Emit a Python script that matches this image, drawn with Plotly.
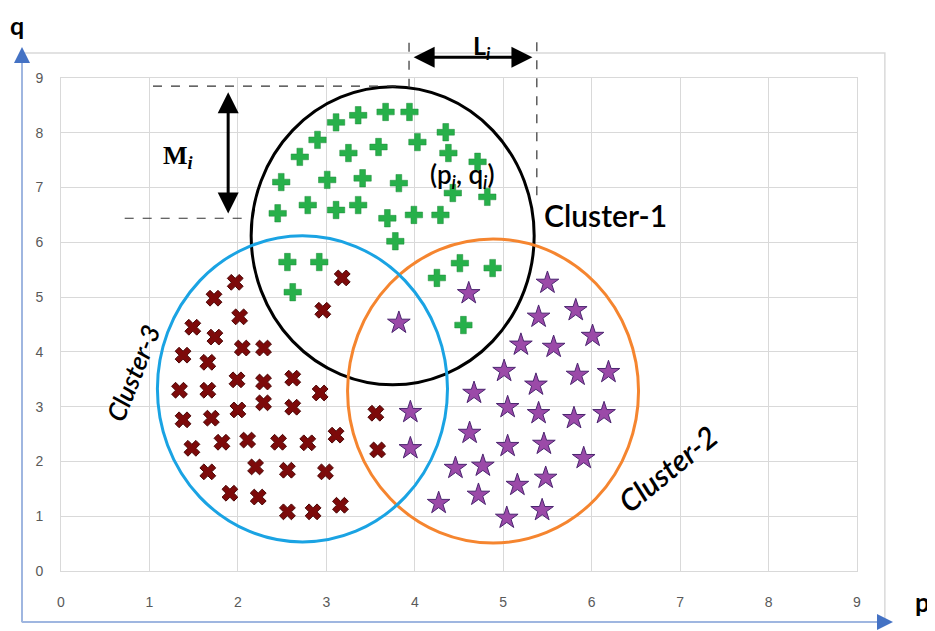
import plotly.graph_objects as go

# ---- data ----
green_p = [3.94, 3.67, 3.36, 3.11, 4.35, 2.90, 4.03, 3.59, 3.25, 4.38, 2.70, 4.71,
           2.49, 3.01, 3.41, 3.82, 4.43, 4.82, 2.45, 2.79, 3.11, 3.36, 3.69, 3.99,
           4.29, 3.78, 2.56, 2.92, 2.62, 4.25, 4.51, 4.88, 4.55]
green_q = [8.38, 8.38, 8.32, 8.19, 8.01, 7.87, 7.83, 7.74, 7.63, 7.63, 7.56, 7.47,
           7.10, 7.14, 7.17, 7.08, 6.90, 6.83, 6.53, 6.68, 6.59, 6.68, 6.44, 6.50,
           6.50, 6.02, 5.64, 5.64, 5.09, 5.35, 5.62, 5.53, 4.49]

red_p = [3.18, 2.96, 1.97, 1.73, 2.02, 1.49, 1.74, 2.05, 2.29, 1.38, 1.66, 1.34, 1.66,
         1.99, 2.29, 2.62, 2.93, 1.38, 1.70, 2.00, 2.29, 2.62, 1.48, 1.82, 2.11, 2.46,
         2.79, 3.11, 1.66, 2.20, 2.56, 2.99, 1.91, 2.23, 2.56, 2.85, 3.16, 3.56, 3.58]
red_q = [5.35, 4.76, 5.27, 4.98, 4.64, 4.45, 4.27, 4.07, 4.07, 3.94, 3.81, 3.30, 3.30,
         3.49, 3.45, 3.52, 3.25, 2.76, 2.79, 2.94, 3.07, 2.99, 2.24, 2.35, 2.39, 2.35,
         2.34, 2.48, 1.81, 1.90, 1.84, 1.81, 1.42, 1.35, 1.08, 1.08, 1.20, 2.88, 2.21]

purple_p = [3.82, 4.61, 5.50, 5.82, 5.40, 6.01, 5.20, 5.57, 5.01, 5.37, 5.84, 6.19,
            4.67, 5.05, 5.40, 5.80, 6.14, 3.95, 3.95, 4.62, 5.05, 5.46, 5.91, 4.46,
            4.77, 5.16, 5.48, 4.72, 4.27, 5.04, 5.44]
purple_q = [4.53, 5.07, 5.26, 4.76, 4.64, 4.29, 4.13, 4.09, 3.65, 3.40, 3.58, 3.63,
            3.25, 2.99, 2.88, 2.79, 2.88, 2.90, 2.24, 2.52, 2.28, 2.32, 2.06, 1.88,
            1.92, 1.57, 1.70, 1.39, 1.24, 0.97, 1.11]

# cluster outlines: [p_min, p_max, q_min, q_max]
cluster_names = ["Cluster-1", "Cluster-2", "Cluster-3"]
cluster_bounds = [[2.15, 5.35, 3.40, 8.84],
                  [3.24, 6.53, 0.51, 6.06],
                  [1.09, 4.37, 0.53, 6.12]]
cluster_colors = ["#000000", "#f5852f", "#1aa3e3"]
# label positions (p, q) and angles
label_p = [6.16, 6.86, 0.81]
label_q = [6.50, 1.88, 3.62]
label_angle = [0, -39, -68]
label_size = [30, 30, 26]
label_italic = [False, True, True]

tick_vals = list(range(0, 10))
tick_text = [str(v) for v in tick_vals]

fig = go.Figure()

fig.add_trace(go.Scatter(x=green_p, y=green_q, mode="markers", name="Cluster-1",
                         marker=dict(symbol="cross", size=14.5, color="#27b04a",
                                     line=dict(width=0.5, color="#1f8a3a"))))
fig.add_trace(go.Scatter(x=red_p, y=red_q, mode="markers", name="Cluster-3",
                         marker=dict(symbol="x", size=14, color="#7d0a0a",
                                     line=dict(width=1, color="#4a0505"))))
fig.add_trace(go.Scatter(x=purple_p, y=purple_q, mode="markers", name="Cluster-2",
                         marker=dict(symbol="star", size=17, color="#9b4aa8",
                                     line=dict(width=1, color="#4b2570"))))

shapes = []
for b, c in zip(cluster_bounds, cluster_colors):
    shapes.append(dict(type="circle", xref="x", yref="y", x0=b[0], x1=b[1], y0=b[2], y1=b[3],
                       line=dict(color=c, width=3), layer="between"))

# paper conversion: plot area covers 0..9 on both axes
def px(v):
    return v / 9.0

UX = 796 / 9.0   # pixels per unit (x)
UY = 493 / 9.0   # pixels per unit (y)

# chart-area frame (outside plot area)
L, R, B, T = -0.049, 1.035, -0.1034, 1.0507
shapes.append(dict(type="rect", xref="paper", yref="paper", x0=L, x1=R, y0=B, y1=T,
                   line=dict(color="#d9d9d9", width=1.5), layer="below"))
shapes.append(dict(type="line", xref="paper", yref="paper", x0=L, x1=L, y0=B, y1=1.05,
                   line=dict(color="#9fb6e0", width=2)))
shapes.append(dict(type="line", xref="paper", yref="paper", x0=L, x1=1.035, y0=B, y1=B,
                   line=dict(color="#9fb6e0", width=2)))

# dashed guide lines for L_i and M_i
dash = dict(color="#333333", width=1.2, dash="dash")
shapes.append(dict(type="line", xref="paper", yref="paper", x0=px(3.935), x1=px(3.935),
                   y0=px(8.82), y1=px(9.69), line=dash))
shapes.append(dict(type="line", xref="paper", yref="paper", x0=px(5.38), x1=px(5.38),
                   y0=px(6.86), y1=px(9.69), line=dash))
shapes.append(dict(type="line", xref="paper", yref="paper", x0=px(1.04), x1=px(3.89),
                   y0=px(8.85), y1=px(8.85), line=dash))
shapes.append(dict(type="line", xref="paper", yref="paper", x0=px(0.72), x1=px(2.08),
                   y0=px(6.44), y1=px(6.44), line=dash))

annotations = []
# double arrows
annotations.append(dict(xref="paper", yref="paper", x=px(5.33), y=px(9.38),
                        ax=-(5.33 - 3.97) * UX, ay=0, text="",
                        showarrow=True, arrowside="end+start", arrowhead=2,
                        arrowsize=1.4, arrowwidth=3, arrowcolor="#000000"))
annotations.append(dict(xref="paper", yref="paper", x=px(1.89), y=px(8.74),
                        ax=0, ay=(8.74 - 6.50) * UY, text="",
                        showarrow=True, arrowside="end+start", arrowhead=2,
                        arrowsize=1.4, arrowwidth=3, arrowcolor="#000000"))
# axis arrows heads
annotations.append(dict(xref="paper", yref="paper", x=L, y=1.063, ax=0, ay=14, text="",
                        showarrow=True, arrowhead=2, arrowsize=1.6, arrowwidth=2,
                        arrowcolor="#4472c4"))
annotations.append(dict(xref="paper", yref="paper", x=(893 - 61) / 796, y=B, ax=-14, ay=0,
                        text="", showarrow=True, arrowhead=2, arrowsize=1.6, arrowwidth=2,
                        arrowcolor="#4472c4"))

# cluster labels
for n, lp, lq, ang, sz, it in zip(cluster_names, label_p, label_q, label_angle,
                                  label_size, label_italic):
    txt = f"<i>{n}</i>" if it else n
    annotations.append(dict(xref="x", yref="y", x=lp, y=lq, text=txt, showarrow=False,
                            textangle=ang, xanchor="center", yanchor="middle",
                            font=dict(family="Lato, Open Sans, sans-serif", size=sz,
                                      color="#000000", weight=600)))

annotations.append(dict(xref="x", yref="y", x=4.53, y=7.22,
                        text="(p<sub><i>i</i></sub>, q<sub><i>i</i></sub>)", showarrow=False,
                        xanchor="center", yanchor="middle",
                        font=dict(family="Lato, sans-serif", size=26, color="#000000",
                                  weight=600)))
annotations.append(dict(xref="paper", yref="paper", x=px(4.76), y=px(9.57),
                        text="<b>L</b><sub><b><i>i</i></b></sub>", showarrow=False,
                        xanchor="center", yanchor="middle",
                        font=dict(family="Lato, sans-serif", size=25, color="#000000")))
annotations.append(dict(xref="paper", yref="paper", x=px(1.32), y=px(7.55),
                        text="<b>M</b><sub><b><i>i</i></b></sub>", showarrow=False,
                        xanchor="center", yanchor="middle",
                        font=dict(family="Liberation Serif, serif", size=26, color="#000000")))
# axis names
annotations.append(dict(xref="paper", yref="paper", x=(17 - 61) / 796, y=(571 - 25) / 493,
                        text="<b>q</b>", showarrow=False, xanchor="center", yanchor="middle",
                        font=dict(family="Lato, Liberation Sans, sans-serif", size=25,
                                  color="#000000")))
annotations.append(dict(xref="paper", yref="paper", x=(922 - 61) / 796, y=(571 - 602) / 493,
                        text="<b>p</b>", showarrow=False, xanchor="center", yanchor="middle",
                        font=dict(family="Lato, Liberation Sans, sans-serif", size=26,
                                  color="#000000")))

axis_common = dict(range=[0, 9], tickvals=tick_vals, ticktext=tick_text, showgrid=True,
                   gridcolor="#d9d9d9", gridwidth=1, zeroline=False, showline=True,
                   linecolor="#d9d9d9", linewidth=1, mirror=True, ticks="",
                   tickfont=dict(family="Liberation Sans Narrow, Liberation Sans, sans-serif",
                                 size=14, color="#595959"), fixedrange=True)

# the page body has an 8px default margin, so the figure is shrunk by that amount
fig.update_layout(
    width=927, height=623,
    margin=dict(l=53, r=78, t=70, b=60),
    paper_bgcolor="white", plot_bgcolor="white",
    showlegend=False,
    xaxis=dict(axis_common, ticklabelstandoff=18),
    yaxis=dict(axis_common, ticklabelstandoff=14),
    shapes=shapes, annotations=annotations,
)

fig.write_html("out.html")
